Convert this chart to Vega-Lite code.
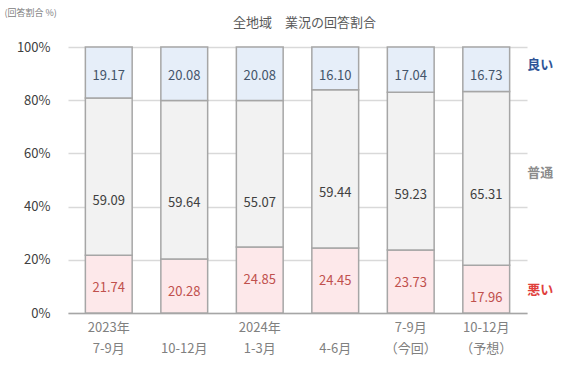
{
  "$schema": "https://vega.github.io/schema/vega-lite/v6.json",
  "width": 459,
  "height": 266,
  "autosize": {"type": "none"},
  "padding": {"left": 68, "top": 47, "right": 39, "bottom": 61},
  "background": "white",
  "config": {"view": {"stroke": null}, "font": "Noto Sans CJK JP"},
  "title": {"text": "全地域　業況の回答割合", "fontSize": 13, "fontWeight": "normal", "color": "#595959", "offset": -22, "dx": 7, "anchor": "middle"},
  "data": {
    "values": [
      {"period": "2023年 7-9月", "series": "悪い", "rank": 1, "value": 21.74},
      {"period": "2023年 7-9月", "series": "普通", "rank": 2, "value": 59.09},
      {"period": "2023年 7-9月", "series": "良い", "rank": 3, "value": 19.17},
      {"period": "10-12月", "series": "悪い", "rank": 1, "value": 20.28},
      {"period": "10-12月", "series": "普通", "rank": 2, "value": 59.64},
      {"period": "10-12月", "series": "良い", "rank": 3, "value": 20.08},
      {"period": "2024年 1-3月", "series": "悪い", "rank": 1, "value": 24.85},
      {"period": "2024年 1-3月", "series": "普通", "rank": 2, "value": 55.07},
      {"period": "2024年 1-3月", "series": "良い", "rank": 3, "value": 20.08},
      {"period": "4-6月", "series": "悪い", "rank": 1, "value": 24.45},
      {"period": "4-6月", "series": "普通", "rank": 2, "value": 59.44},
      {"period": "4-6月", "series": "良い", "rank": 3, "value": 16.10},
      {"period": "7-9月 （今回）", "series": "悪い", "rank": 1, "value": 23.73},
      {"period": "7-9月 （今回）", "series": "普通", "rank": 2, "value": 59.23},
      {"period": "7-9月 （今回）", "series": "良い", "rank": 3, "value": 17.04},
      {"period": "10-12月 （予想）", "series": "悪い", "rank": 1, "value": 17.96},
      {"period": "10-12月 （予想）", "series": "普通", "rank": 2, "value": 65.31},
      {"period": "10-12月 （予想）", "series": "良い", "rank": 3, "value": 16.73}
    ]
  },
  "transform": [
    {"stack": "value", "groupby": ["period"], "sort": [{"field": "rank", "order": "ascending"}], "as": ["v0", "v1"]}
  ],
  "encoding": {
    "x": {
      "field": "period", "type": "nominal", "sort": null,
      "scale": {"paddingInner": 0.38, "paddingOuter": 0.23},
      "axis": {
        "title": null, "labelAngle": 0, "ticks": false,
        "domainColor": "#a6a6a6", "domainWidth": 1.5,
        "labelColor": "#808080", "labelFontSize": 13, "labelPadding": 8, "labelLineHeight": 21,
        "labelExpr": "length(split(datum.label, ' ')) == 1 ? ['', datum.label] : split(datum.label, ' ')"
      }
    }
  },
  "layer": [
    {
      "mark": {"type": "bar", "stroke": "#a6a6a6", "strokeWidth": 1.5},
      "encoding": {
        "y": {
          "field": "v0", "type": "quantitative", "scale": {"domain": [0, 100]},
          "axis": {
            "title": "(回答割合 %)", "titleAngle": 0, "titleX": -64, "titleY": -35, "titleAlign": "left",
            "titleFontSize": 9, "titleFontWeight": "normal", "titleColor": "#808080", "titleBaseline": "middle",
            "values": [0, 20, 40, 60, 80, 100], "labelExpr": "datum.value + '%'",
            "labelFontSize": 13, "labelColor": "#404040", "labelPadding": 18,
            "domain": false, "ticks": false, "gridColor": "#d9d9d9", "gridWidth": 1.5
          }
        },
        "y2": {"field": "v1"},
        "color": {
          "field": "series", "type": "nominal",
          "scale": {"domain": ["良い", "普通", "悪い"], "range": ["#e6eef9", "#f2f2f2", "#fde8ea"]},
          "legend": null
        }
      }
    },
    {
      "transform": [{"filter": "datum.series == '良い'"}],
      "mark": {"type": "text", "fontSize": 13, "color": "#44546a", "dy": 29, "baseline": "middle"},
      "encoding": {"y": {"field": "v1", "type": "quantitative"}, "text": {"field": "value", "type": "quantitative", "format": ".2f"}}
    },
    {
      "transform": [{"filter": "datum.series == '普通'"}],
      "mark": {"type": "text", "fontSize": 13, "color": "#404040", "dy": 103, "baseline": "middle"},
      "encoding": {"y": {"field": "v1", "type": "quantitative"}, "text": {"field": "value", "type": "quantitative", "format": ".2f"}}
    },
    {
      "transform": [{"filter": "datum.series == '悪い'"}],
      "mark": {"type": "text", "fontSize": 13, "color": "#c0504d", "dy": 33, "baseline": "middle"},
      "encoding": {"y": {"field": "v1", "type": "quantitative"}, "text": {"field": "value", "type": "quantitative", "format": ".2f"}}
    },
    {
      "transform": [{"filter": "datum.series == '良い' && indexof(datum.period, '予想') >= 0"}],
      "mark": {"type": "text", "fontSize": 13, "fontWeight": "bold", "color": "#2f5597", "dx": 54, "dy": 18, "baseline": "middle"},
      "encoding": {"y": {"field": "v1", "type": "quantitative"}, "text": {"field": "series"}}
    },
    {
      "transform": [{"filter": "datum.series == '普通' && indexof(datum.period, '予想') >= 0"}],
      "mark": {"type": "text", "fontSize": 13, "fontWeight": "bold", "color": "#8c8c8c", "dx": 54, "dy": 81, "baseline": "middle"},
      "encoding": {"y": {"field": "v1", "type": "quantitative"}, "text": {"field": "series"}}
    },
    {
      "transform": [{"filter": "datum.series == '悪い' && indexof(datum.period, '予想') >= 0"}],
      "mark": {"type": "text", "fontSize": 13, "fontWeight": "bold", "color": "#e0403c", "dx": 54, "dy": 25, "baseline": "middle"},
      "encoding": {"y": {"field": "v1", "type": "quantitative"}, "text": {"field": "series"}}
    }
  ]
}
